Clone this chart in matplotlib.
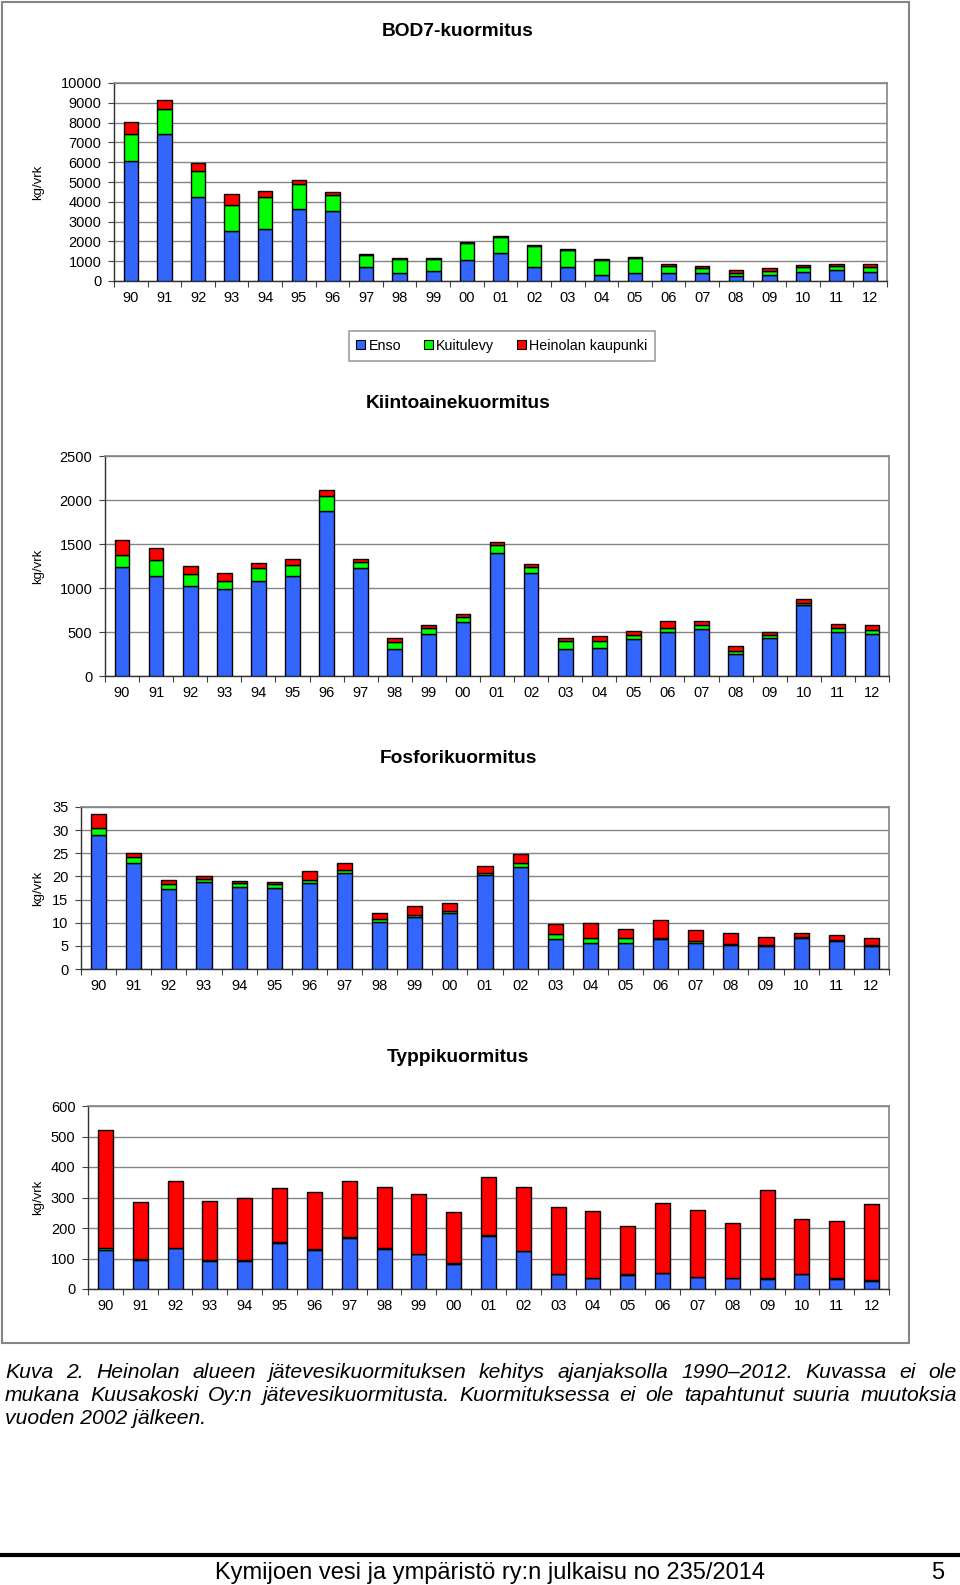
import matplotlib
matplotlib.use("Agg")
import matplotlib.pyplot as plt
from matplotlib.patches import Rectangle, Patch
from matplotlib.lines import Line2D
import numpy as np

plt.rcParams["font.family"] = ["Liberation Sans", "DejaVu Sans"]

W, H = 960, 1585
YEARS = ["90", "91", "92", "93", "94", "95", "96", "97", "98", "99", "00", "01",
         "02", "03", "04", "05", "06", "07", "08", "09", "10", "11", "12"]
SERIES = ["Enso", "Kuitulevy", "Heinolan kaupunki"]

# BOD7, kg/vrk
BOD_ENSO = [6080, 7400, 4260, 2540, 2620, 3640, 3520, 720, 420, 490, 1040, 1420,
            690, 700, 290, 400, 400, 410, 240, 320, 470, 540, 470]
BOD_KUITU = [1340, 1300, 1280, 1300, 1640, 1280, 810, 580, 680, 610, 870, 780,
             1100, 870, 790, 780, 340, 260, 180, 200, 240, 200, 250]
BOD_HEIN = [610, 460, 440, 540, 290, 200, 150, 50, 40, 40, 60, 60,
            50, 50, 50, 50, 100, 100, 120, 120, 80, 120, 130]

# kiintoaine, kg/vrk
KI_ENSO = [1240, 1140, 1020, 985, 1080, 1135, 1880, 1225, 305, 480, 610, 1400,
           1175, 310, 320, 415, 500, 530, 255, 435, 805, 505, 480]
KI_KUITU = [135, 180, 140, 100, 145, 130, 165, 70, 85, 60, 65, 85,
            65, 90, 80, 55, 45, 55, 30, 35, 20, 35, 40]
KI_HEIN = [165, 130, 90, 85, 55, 60, 70, 40, 45, 40, 35, 35,
           35, 30, 55, 45, 80, 40, 55, 35, 45, 50, 65]

# fosfori, kg/vrk
P_ENSO = [29.0, 23.0, 17.3, 18.9, 17.7, 17.6, 18.6, 20.7, 10.2, 11.2, 12.2, 20.4,
          22.1, 6.4, 5.6, 5.6, 6.4, 5.7, 5.1, 4.9, 6.7, 6.0, 5.0]
P_KUITU = [1.5, 1.2, 1.1, 0.5, 0.9, 0.7, 0.6, 0.7, 0.6, 0.5, 0.3, 0.4,
           0.7, 1.2, 1.2, 1.1, 0.3, 0.4, 0.2, 0.2, 0.2, 0.2, 0.2]
P_HEIN = [3.0, 0.9, 0.8, 0.7, 0.5, 0.6, 2.0, 1.5, 1.4, 1.9, 1.8, 1.5,
          2.0, 2.1, 3.1, 2.0, 3.9, 2.4, 2.5, 1.9, 0.9, 1.1, 1.5]

# typpi, kg/vrk
N_ENSO = [128, 95, 133, 93, 93, 152, 128, 167, 132, 114, 83, 174,
          124, 48, 36, 47, 51, 39, 36, 34, 48, 34, 27]
N_KUITU = [5, 2, 3, 2, 2, 2, 2, 2, 2, 2, 2, 2,
           2, 1, 1, 1, 1, 1, 1, 1, 1, 1, 1]
N_HEIN = [388, 189, 218, 192, 203, 178, 189, 186, 201, 196, 166, 191,
          210, 220, 218, 159, 229, 219, 179, 288, 181, 189, 250]

BLUE = "#3366FF"; GREEN = "#00FF00"; RED = "#FF0000"
COLS = [BLUE, GREEN, RED]
GRID = "#858585"

fig = plt.figure(figsize=(W / 100, H / 100), dpi=100)
fig.patch.set_facecolor("white")


def fx(x): return x / W
def fy(y): return 1 - y / H


def panel(left, top, right, bottom, data, ymax, step, title, title_y):
    ax = fig.add_axes([fx(left), fy(bottom), fx(right - left), (bottom - top) / H])
    x = np.arange(len(YEARS))
    base = np.zeros(len(YEARS))
    bars = []
    for vals, c in zip(data, COLS):
        v = np.array(vals, dtype=float)
        b = ax.bar(x, v, 0.43, bottom=base, color=c, edgecolor="black", linewidth=1.0, zorder=3)
        bars.append(b)
        base = base + v
    ax.set_xlim(-0.5, len(YEARS) - 0.5)
    ax.set_ylim(0, ymax)
    ax.set_yticks(np.arange(0, ymax + step / 2, step))
    ax.set_xticks(x)
    ax.set_xticklabels(YEARS)
    ax.set_xticks(np.arange(-0.5, len(YEARS), 1.0), minor=True)
    ax.tick_params(axis="x", which="major", length=0, pad=7, labelsize=10.5)
    ax.tick_params(axis="x", which="minor", length=4, width=0.8, color="#404040")
    ax.tick_params(axis="y", length=4, width=0.8, pad=5, labelsize=10.5, color="#404040")
    ax.yaxis.grid(True, color=GRID, linewidth=1.0, zorder=0)
    ax.set_axisbelow(True)
    for s in ("top", "right"):
        ax.spines[s].set_color(GRID); ax.spines[s].set_linewidth(1.2)
    for s in ("left", "bottom"):
        ax.spines[s].set_color("#303030"); ax.spines[s].set_linewidth(1.0)
    fig.text(fx(38), fy((top + bottom) / 2), "kg/vrk", rotation=90, ha="center", va="center", fontsize=9.5)
    fig.text(fx(458), fy(title_y), title, ha="center", va="center", fontsize=13.8, fontweight="bold")
    return ax, bars


ax1, bars = panel(114, 83, 887, 281, [BOD_ENSO, BOD_KUITU, BOD_HEIN], 10000, 1000, "BOD7-kuormitus", 32)
panel(105, 456, 889, 676, [KI_ENSO, KI_KUITU, KI_HEIN], 2500, 500, "Kiintoainekuormitus", 403)
panel(81, 807, 889, 969, [P_ENSO, P_KUITU, P_HEIN], 35, 5, "Fosforikuormitus", 758)
panel(88, 1106, 889, 1289, [N_ENSO, N_KUITU, N_HEIN], 600, 100, "Typpikuormitus", 1057)

handles = [Patch(facecolor=c, edgecolor="black", linewidth=0.8) for c in COLS]
leg = fig.legend(handles, SERIES, loc="center", bbox_to_anchor=(fx(502), fy(346)), ncol=3,
                 frameon=True, fancybox=False, edgecolor=GRID, fontsize=10.3,
                 handlelength=0.6, handleheight=0.6, handletextpad=0.25, columnspacing=1.6,
                 borderpad=0.55, borderaxespad=0)
leg.get_frame().set_linewidth(1.2)

# outer frame around the charts
fig.patches.append(Rectangle((fx(2), fy(1343)), fx(907), (1343 - 2) / H, transform=fig.transFigure,
                             fill=False, edgecolor=GRID, linewidth=1.5, zorder=0))

# caption, justified
CAPTION = [
    "Kuva 2. Heinolan alueen jätevesikuormituksen kehitys ajanjaksolla 1990–2012. Kuvassa ei ole",
    "mukana Kuusakoski Oy:n jätevesikuormitusta. Kuormituksessa ei ole tapahtunut suuria muutoksia",
    "vuoden 2002 jälkeen.",
]
renderer = fig.canvas.get_renderer()
x0, x1 = 5, 957
cap_size = 15.2
probe = fig.text(0, 0, CAPTION[1], fontsize=cap_size, style="italic")
natural = probe.get_window_extent(renderer).width
if natural > (x1 - x0):
    cap_size *= (x1 - x0) / natural * 0.99
probe.remove()
for i, line in enumerate(CAPTION):
    yb = 1378 + i * 23
    if i == len(CAPTION) - 1:
        fig.text(fx(x0), fy(yb), line, fontsize=cap_size, style="italic", va="baseline")
        continue
    words = line.split(" ")
    ts = [fig.text(0, 0, w, fontsize=cap_size, style="italic", va="baseline") for w in words]
    widths = [t.get_window_extent(renderer).width for t in ts]
    gap = (x1 - x0 - sum(widths)) / (len(words) - 1)
    xx = x0
    for t, w in zip(ts, widths):
        t.set_position((fx(xx), fy(yb)))
        xx += w + gap

# footer
fig.add_artist(Line2D([0, 1], [fy(1555), fy(1555)], transform=fig.transFigure, color="black", linewidth=3))
fig.text(fx(490), fy(1573), "Kymijoen vesi ja ympäristö ry:n julkaisu no 235/2014", ha="center", va="center", fontsize=17)
fig.text(fx(938), fy(1573), "5", ha="center", va="center", fontsize=17)

fig.savefig("out.png", dpi=100, facecolor="white")
